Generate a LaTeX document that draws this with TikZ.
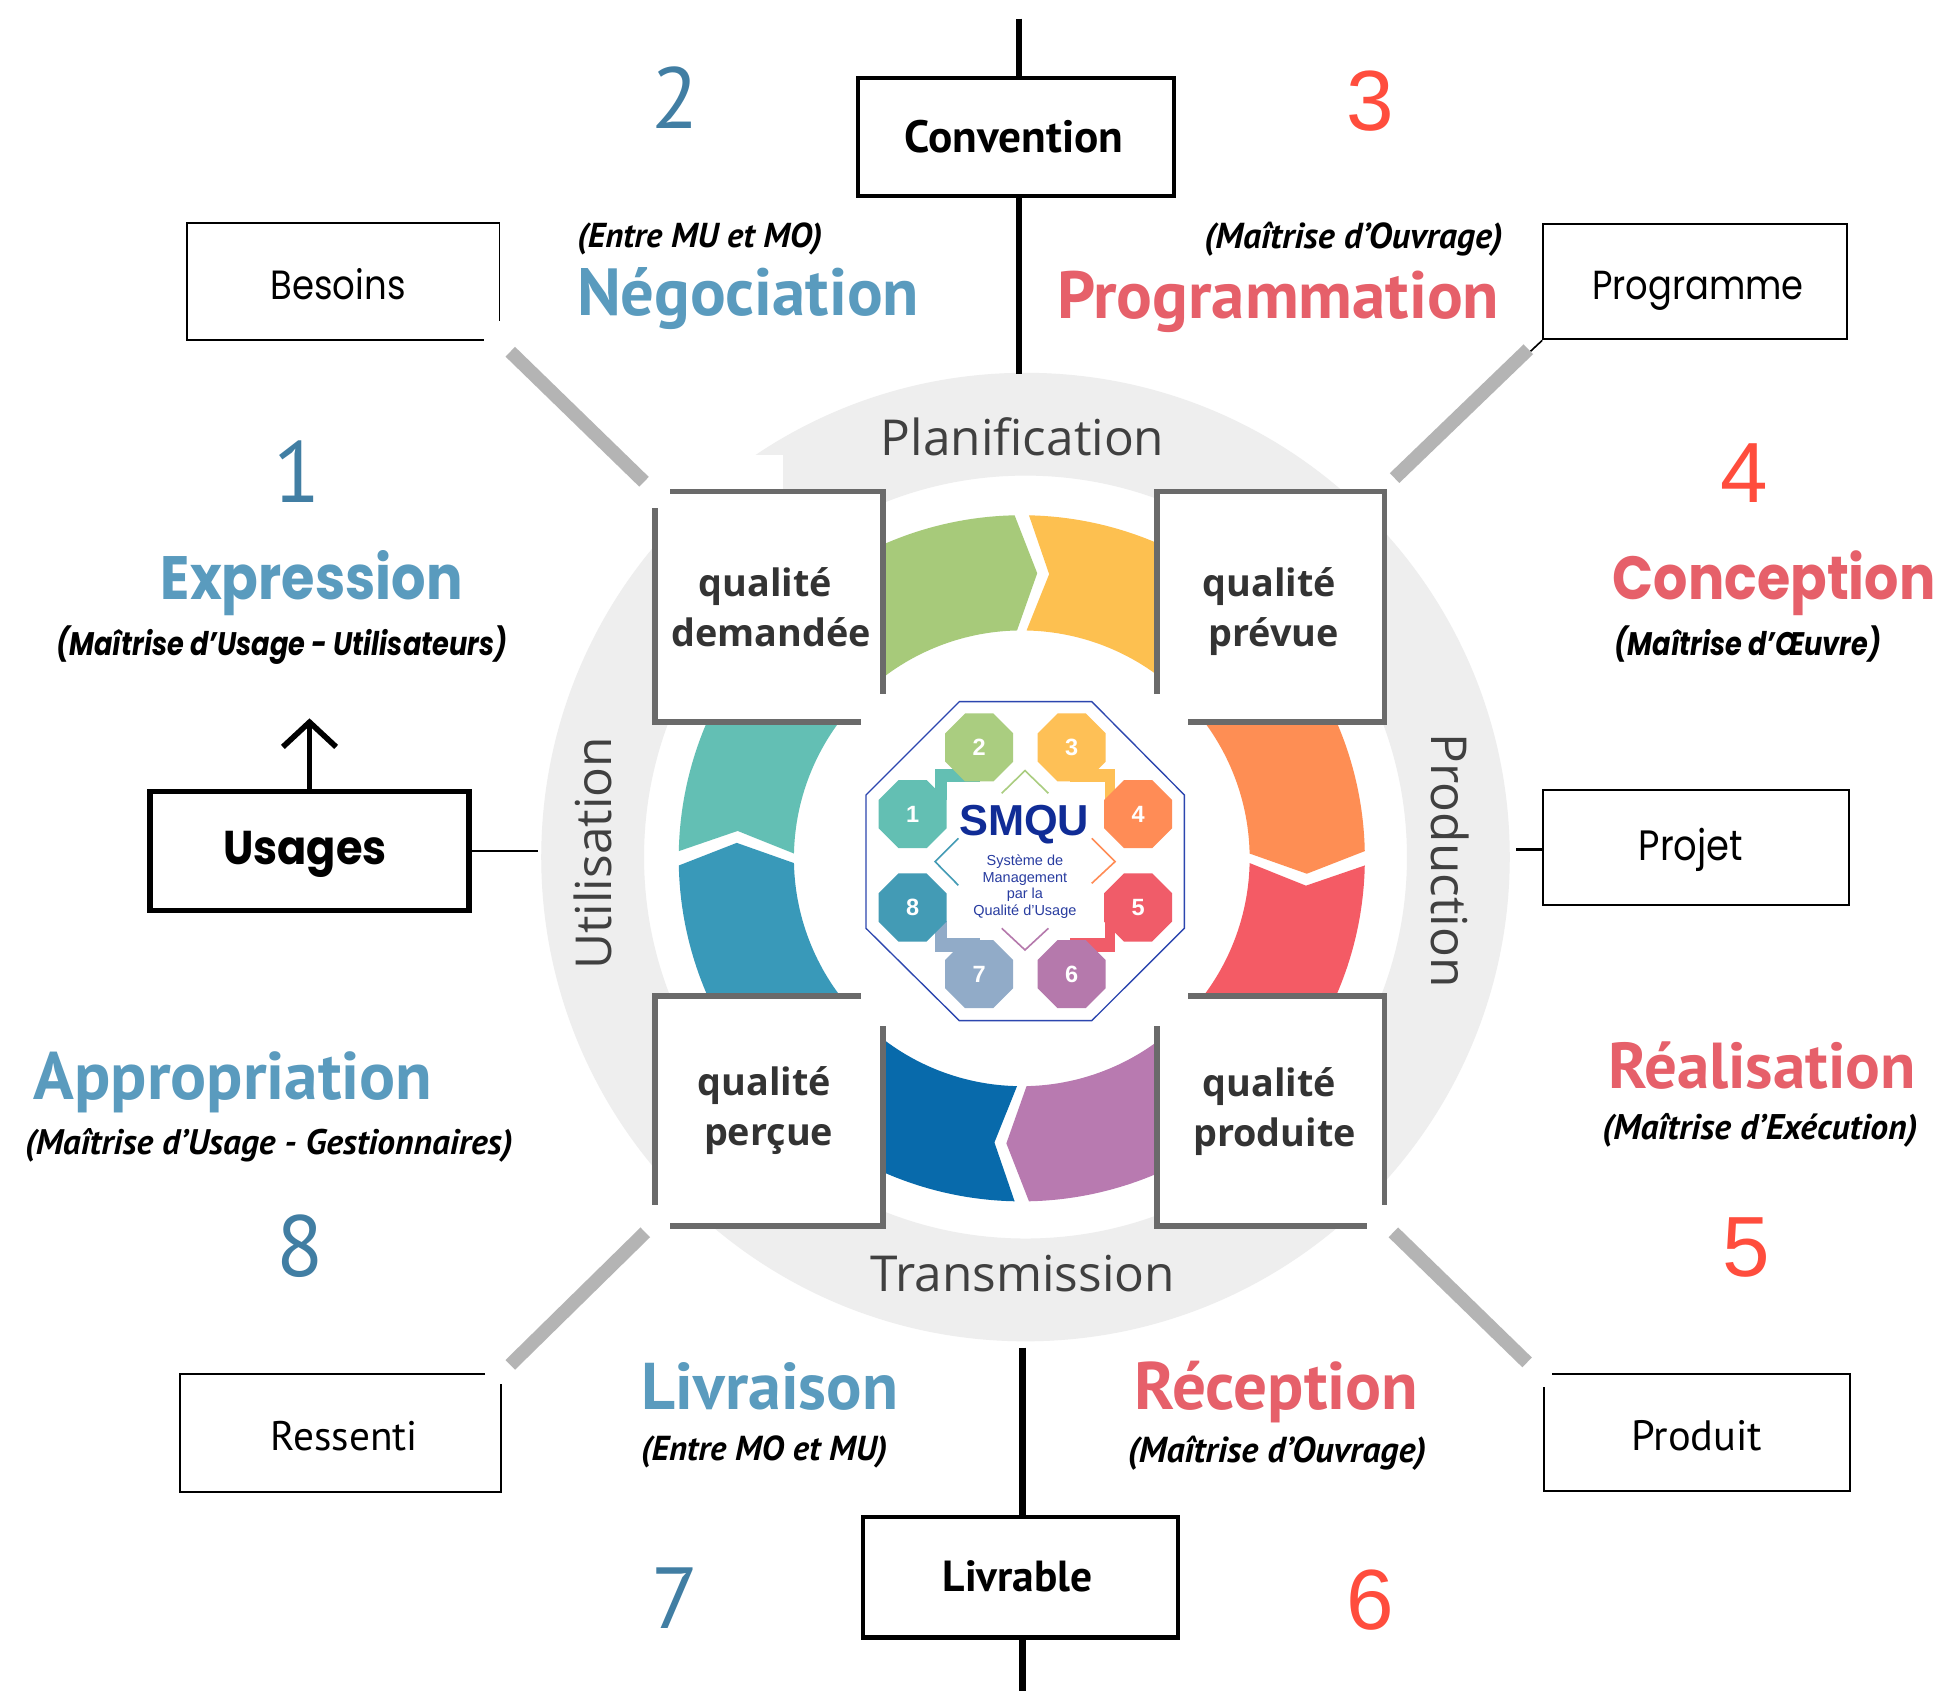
\documentclass[tikz,border=0pt]{standalone}
\usepackage{fontspec}
\usepackage{graphicx}
\usetikzlibrary{arrows.meta,shapes.geometric}
\setmainfont{PT Sans}
\newfontfamily\myr{PT Sans}
\newfontfamily\cg{Poppins}
\newfontfamily\os{Open Sans}
\newfontfamily\ar{Liberation Sans}

\definecolor{hblue}{HTML}{5A9BBE}
\definecolor{hred}{HTML}{E6606A}
\definecolor{nblue}{HTML}{417EA3}
\definecolor{nred}{HTML}{FF4D3D}
\definecolor{ringgrey}{HTML}{EEEEEE}
\definecolor{bargrey}{HTML}{B4B4B4}
\definecolor{qframe}{HTML}{6A6A6A}
\definecolor{qtext}{HTML}{333333}
\definecolor{rtext}{HTML}{404040}
% cycle segments
\definecolor{sgreen}{HTML}{A7CA7A}
\definecolor{syellow}{HTML}{FDC050}
\definecolor{sorange}{HTML}{FE8E54}
\definecolor{sred}{HTML}{F45B65}
\definecolor{spurple}{HTML}{B87AB0}
\definecolor{sdblue}{HTML}{086AAB}
\definecolor{smblue}{HTML}{3999B9}
\definecolor{steal}{HTML}{63BFB4}
% logo
\definecolor{oone}{HTML}{63BFB3}
\definecolor{otwo}{HTML}{AACD80}
\definecolor{othree}{HTML}{FEC056}
\definecolor{ofour}{HTML}{FF8C56}
\definecolor{ofive}{HTML}{F05C69}
\definecolor{osix}{HTML}{B579AC}
\definecolor{oseven}{HTML}{91ABC8}
\definecolor{oeight}{HTML}{439BB5}
\definecolor{logoline}{HTML}{2C46AF}
\definecolor{logotext}{HTML}{102C96}
\definecolor{logosmall}{HTML}{283CA0}

% text scaled to a given width, optionally stretched vertically
\newcommand\fitw[2]{\resizebox{#1pt}{!}{#2}}
\newcommand\fitwv[3]{\scalebox{1}[#2]{\resizebox{#1pt}{!}{#3}}}

\tikzset{
  thinbox/.style={draw=black, line width=1.6, fill=white, inner sep=0pt, text depth=0pt},
  boldbox/.style={draw=black, line width=3.5, fill=white, inner sep=0pt, text depth=0pt},
  qbox/.style={draw=qframe, line width=4.5, fill=white, minimum width=184, minimum height=186, inner sep=0pt},
  bar/.style={bargrey, line width=11},
  axisline/.style={black, line width=5},
  head/.style={anchor=base, inner sep=0pt},
  ringlabel/.style={inner sep=0pt, text=rtext, font=\os\fontsize{40}{48}\selectfont},
  qlabel/.style={anchor=base, inner sep=0pt, text=qtext, font=\os\bfseries\fontsize{30.5}{36}\selectfont},
  oct/.style={regular polygon, regular polygon sides=8, minimum size=59.5, inner sep=0pt, text=white, font=\ar\bfseries\fontsize{19}{19}\selectfont},
  numblue/.style={anchor=base, inner sep=0pt, font=\myr\fontsize{70}{70}\selectfont, text=nblue},
  numred/.style={anchor=base, inner sep=0pt, font=\ar\fontsize{69}{69}\selectfont, text=nred},
}

\begin{document}
\begin{tikzpicture}[x=1pt,y=-1pt]
\useasboundingbox (0,0) rectangle (1568,1365);
\fill[white] (0,0) rectangle (1568,1365);

% ---- grey band around the cycle
\fill[ringgrey, even odd rule] (828,692) circle[radius=391] (828,692) circle[radius=308];
\fill[white] (542,367) rectangle (632,395);

% ---- coloured cycle segments (clockwise, chevron ends)
\begin{scope}[shift={(825,693)}, yscale=-1]
  \foreach \a/\col in {135/sgreen, 90/syellow, 45/sorange, 0/sred, -45/spurple, -90/sdblue, -135/smblue, 180/steal}{
    \pgfmathsetmacro\sa{\a-1.2}
    \pgfmathsetmacro\eb{\a-45+1.2}
    \pgfmathsetmacro\tipb{\eb-4.3}
    \pgfmathsetmacro\nota{\sa-4.3}
    \fill[\col] (\sa:277) arc[start angle=\sa, end angle=\eb, radius=277]
      -- (\tipb:230.5) -- (\eb:184) arc[start angle=\eb, end angle=\sa, radius=184]
      -- (\nota:230.5) -- cycle;
  }
\end{scope}

% ---- quality boxes
\node[qbox] (qdem) at (621,490) {};
\node[qbox] (qpre) at (1026,490) {};
\node[qbox] (qper) at (621,897) {};
\node[qbox] (qpro) at (1026,897) {};

% white cut-outs over the boxes
\fill[white] (695,560) rectangle (959,828);
\fill[white] (514,383) rectangle (541,410);
\fill[white] (514,973) rectangle (541,1003);
\fill[white] (1104,973) rectangle (1133,1003);

% ---- labels of the grey band
\node[ringlabel, anchor=base] (plan) at (825.6,367.4) {Planification};
\node[ringlabel, anchor=base] (trans) at (825.7,1043) {Transmission};
\node[ringlabel, rotate=90] (util) at (479,689) {Utilisation};
\node[ringlabel, rotate=-90] (prodn) at (1171,695) {Production};

% ---- labels of the quality boxes
\node[qlabel] (qd1) at (618,481.8) {qualité};
\node[qlabel] (qd2) at (622.8,522.1) {demandée};
\node[qlabel] (qp1) at (1025,481.8) {qualité};
\node[qlabel] (qp2) at (1028.4,522.1) {prévue};
\node[qlabel] (qc1) at (617.2,884.2) {qualité};
\node[qlabel] (qc2) at (620.6,924.5) {perçue};
\node[qlabel] (qr1) at (1025,885.5) {qualité};
\node[qlabel] (qr2) at (1029,925.9) {produite};

% ---- grey diagonal bars
\coordinate (tlA) at (412,284);  \coordinate (tlB) at (520,389);
\coordinate (trA) at (1234,282); \coordinate (trB) at (1126,386);
\coordinate (blA) at (412,1102); \coordinate (blB) at (521,995);
\coordinate (brA) at (1233,1100);\coordinate (brB) at (1125,995);
\draw[bar] (tlA) -- (tlB);
\draw[bar] (trA) -- (trB);
\draw[bar] (blA) -- (blB);
\draw[bar] (brA) -- (brB);

% ---- SMQU logo
\draw[logoline, line width=1.1, fill=white] (774.6,566.5) -- (881.5,566.5) -- (956.3,641.9) -- (956.3,749.5)
  -- (881.5,824.1) -- (774.6,824.1) -- (699.2,749.5) -- (699.2,641.9) -- cycle;
\fill[oone] (755,621) rectangle (791,646);
\fill[othree] (864,621) rectangle (900.5,646);
\fill[ofive] (864,744) rectangle (900.5,769);
\fill[oseven] (755,744) rectangle (791,769);
\fill[white] (764.4,631.1) rectangle (892.2,757.6);
\node[oct, fill=oone] (o1) at (736.8,657.3) {1};
\node[oct, fill=otwo] (o2) at (790.6,603.5) {2};
\node[oct, fill=othree] (o3) at (865.3,603.5) {3};
\node[oct, fill=ofour] (o4) at (918.9,657.3) {4};
\node[oct, fill=ofive] (o5) at (918.9,732.7) {5};
\node[oct, fill=osix] (o6) at (865.3,786.5) {6};
\node[oct, fill=oseven] (o7) at (790.6,786.5) {7};
\node[oct, fill=oeight] (o8) at (736.8,732.7) {8};
\draw[otwo, line width=1.3] (808.8,640.5) -- (827.6,622.2) -- (846.5,640.5);
\draw[ofour, line width=1.3] (881.5,676.9) -- (900.3,695.7) -- (881.5,713.2);
\draw[osix, line width=1.3] (808.8,749.5) -- (827.6,767) -- (846.5,749.5);
\draw[oeight, line width=1.3] (773.8,676.9) -- (755,695.7) -- (773.8,714.8);
\node[anchor=base, inner sep=0pt, text=logotext, font=\ar\bfseries\fontsize{35}{35}\selectfont] (smqu) at (827,674.2) {SMQU};
\node[align=center, inner sep=0pt, text=logosmall, font=\ar\fontsize{11.7}{13.3}\selectfont] (smqusub) at (827.5,716)
  {Système de\\Management\\par la\\Qualité d’Usage};

% ---- vertical axis with Convention and Livrable
\node[boldbox, minimum width=255, minimum height=95, text height=25pt] (conv) at (820.5,110.5) {\hspace*{-3.6pt}\fitw{176.5}{\myr\bfseries Convention}};
\coordinate (axtop) at (823,15);
\coordinate (axringtop) at (823,302);
\draw[axisline] (axtop) -- (axtop |- conv.north);
\draw[axisline] (conv.south -| axtop) -- (axringtop);

\node[boldbox, minimum width=254, minimum height=97, text height=22.4pt] (livr) at (824,1273.5) {\hspace*{-4.4pt}\fitw{121}{\myr\bfseries Livrable}};
\coordinate (axringbot) at (825.6,1088);
\coordinate (axbot) at (825.6,1365);
\draw[axisline] (axringbot) -- (axringbot |- livr.north);
\draw[axisline] (livr.south -| axbot) -- (axbot);

% ---- outer boxes
\node[thinbox, draw=none, minimum width=251, minimum height=93, text height=28.4pt] (bes) at (277,227.5) {\hspace*{-8pt}\fitwv{109}{1.15}{\cg Besoins}};
\draw[line width=1.6] ([yshift=16pt]bes.south east) -- (bes.north east) -- (bes.north west) -- (bes.south west) -- ([xshift=-12.4pt]bes.south east);

\node[thinbox, minimum width=245, minimum height=93, text height=28.4pt] (prog) at (1368.5,227.5) {\hspace*{4.8pt}\fitwv{170.8}{1.15}{\cg Programme}};
\coordinate (progtick) at (1235.8,283.6);
\draw[line width=1.3] (prog.south west) -- (progtick);

\node[thinbox, minimum width=246.6, minimum height=93, text height=20.2pt] (proj) at (1369.2,684.5) {\hspace*{-7.8pt}\fitwv{84.2}{1.15}{\cg Projet}};
\coordinate (pend) at (1224.2,686);
\draw[line width=2] (pend) -- (pend -| proj.west);

\node[thinbox, draw=none, minimum width=257.7, minimum height=93.8, text height=28pt] (res) at (275,1157) {\hspace*{6pt}\fitw{118.7}{\myr Ressenti}};
\draw[line width=1.6] ([xshift=-13pt]res.north east) -- (res.north west) -- (res.south west) -- (res.south east) -- ([yshift=-8pt]res.north east);

\node[thinbox, draw=none, minimum width=245.5, minimum height=93, text height=29pt] (prd) at (1370,1156.5) {\fitw{105.7}{\myr Produit}};
\draw[line width=1.6] ([xshift=7pt]prd.north west) -- (prd.north east) -- (prd.south east) -- (prd.south west) -- ([yshift=-10.5pt]prd.north west);

\node[thinbox, line width=4.5, minimum width=257.7, minimum height=96, text height=21.4pt] (usa) at (249.9,687) {\hspace*{-7.2pt}\fitwv{132}{1.1}{\cg\bfseries Usages}};
\coordinate (arrtip) at (249.9,580);
\draw[line width=4.5, -{Straight Barb[length=20pt,width=43pt]}] (usa.north) -- (arrtip);
\coordinate (uend) at (434,687);
\draw[line width=2] (usa.east) -- (uend);

% ---- phase numbers
\node[numblue] (n2) at (545,104) {2};
\node[numblue] (n1) at (240,406) {1};
\node[numblue] (n8) at (242.3,1031) {8};
\node[numblue] (n7) at (545,1314.5) {7};
\node[numred] (n3) at (1106,105) {3};
\node[numred] (n4) at (1408,406) {4};
\node[numred] (n5) at (1409.7,1031) {5};
\node[numred] (n6) at (1106,1316) {6};

% ---- phase titles and actors
\node[head, text=hblue] (neg) at (604,255) {\fitw{276}{\myr\bfseries Négociation}};
\node[head] (negs) at (565,200) {\fitw{198}{\myr\bfseries\itshape (Entre MU et MO)}};
\node[head, text=hred] (pgm) at (1032,257) {\fitw{357}{\myr\bfseries Programmation}};
\node[head] (pgms) at (1092.8,201) {\fitw{241}{\myr\bfseries\itshape (Maîtrise d’Ouvrage)}};
\node[head, text=hblue] (expr) at (251.7,484.4) {\fitwv{243.7}{1.13}{\cg\bfseries Expression}};
\node[head] (exprs) at (227.6,529.4) {\fitwv{364}{1.2}{\cg\bfseries\itshape (Maîtrise d’Usage - Utilisateurs)}};
\node[head, text=hred] (conc) at (1432.5,484.4) {\fitwv{260.5}{1.13}{\cg\bfseries Conception}};
\node[head] (concs) at (1411.3,529.4) {\fitwv{215}{1.2}{\cg\bfseries\itshape (Maîtrise d’Œuvre)}};
\node[head, text=hblue] (appr) at (188.2,887.7) {\fitw{322}{\myr\bfseries Appropriation}};
\node[head] (apprs) at (217,932) {\fitw{394}{\myr\bfseries\itshape (Maîtrise d’Usage - Gestionnaires)}};
\node[head, text=hred] (real) at (1422.7,879.2) {\fitw{248.3}{\myr\bfseries Réalisation}};
\node[head] (reals) at (1421,919.9) {\fitw{254.7}{\myr\bfseries\itshape (Maîtrise d’Exécution)}};
\node[head, text=hblue] (livn) at (621.7,1138) {\fitw{207}{\myr\bfseries Livraison}};
\node[head] (livns) at (617,1179.3) {\fitw{199}{\myr\bfseries\itshape (Entre MO et MU)}};
\node[head, text=hred] (recp) at (1030.7,1138) {\fitw{229}{\myr\bfseries Réception}};
\node[head] (recps) at (1031,1180.7) {\fitw{241}{\myr\bfseries\itshape (Maîtrise d’Ouvrage)}};
\end{tikzpicture}
\end{document}
